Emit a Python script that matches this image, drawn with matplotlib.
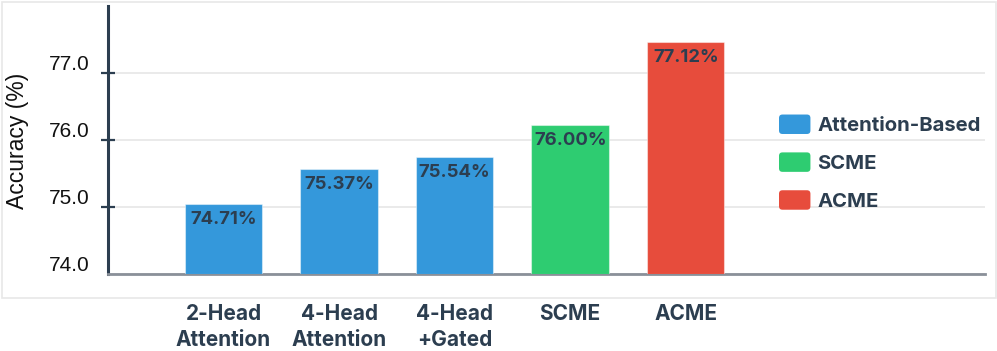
import matplotlib
matplotlib.use('Agg')
import matplotlib.pyplot as plt
from matplotlib.patches import Patch, FancyBboxPatch, Rectangle
from matplotlib.legend_handler import HandlerPatch
from matplotlib.transforms import ScaledTranslation

### Data
models    = ['2-Head\nAttention', '4-Head\nAttention', '4-Head\n+Gated', 'SCME', 'ACME']
bar_tops  = [75.04, 75.56, 75.74, 76.23, 77.46]      # bar heights as drawn against the axis
acc_text  = ['74.71%', '75.37%', '75.54%', '76.00%', '77.12%']
groups    = ['Attention-Based', 'Attention-Based', 'Attention-Based', 'SCME', 'ACME']
legend_groups = ['Attention-Based', 'SCME', 'ACME']
y_ticks   = [74.0, 75.0, 76.0, 77.0]

colors = {'Attention-Based': '#3498db', 'SCME': '#2ecc71', 'ACME': '#e74c3c'}
dark   = '#2c3e50'
base   = 74.0


class RoundedHandler(HandlerPatch):
    def create_artists(self, legend, orig_handle, xdescent, ydescent,
                       width, height, fontsize, trans):
        p = FancyBboxPatch((-xdescent, -ydescent), width, height,
                           boxstyle='round,pad=0,rounding_size=2.5',
                           facecolor=orig_handle.get_facecolor(),
                           edgecolor='none', transform=trans)
        return [p]


def main():
    W, H = 997, 351
    fig = plt.figure(figsize=(W / 100, H / 100), dpi=100)

    # light frame round the plotting area
    fig.patches.append(Rectangle((2 / W, 1 - 298 / H), 994 / W, 296 / H,
                                 transform=fig.transFigure, fill=False,
                                 edgecolor='#e8e8e8', linewidth=1.2))

    ax = fig.add_axes([108 / W, 1 - 274 / H, 877 / W, 268 / H])
    x = list(range(len(models)))
    heights = [t - base for t in bar_tops]
    bars = ax.bar(x, heights, bottom=base, width=0.67,
                  color=[colors[g] for g in groups],
                  edgecolor=(1, 1, 1, 0.45), linewidth=0.8, zorder=3)

    for b, txt in zip(bars, acc_text):
        ax.annotate(txt, (b.get_x() + b.get_width() / 2, b.get_y() + b.get_height()),
                    xytext=(0, -5), textcoords='offset points',
                    ha='center', va='top', fontsize=13.3, fontweight='bold',
                    family='Inter', color=dark, zorder=4)

    ax.set_xlim(-1.0, 6.59)
    ax.set_ylim(base, 78.0)

    ax.set_yticks(y_ticks)
    ax.set_yticklabels(['%.1f' % t for t in y_ticks], family='Liberation Sans',
                       fontsize=15, color='#111111', va='baseline')
    ax.tick_params(axis='y', direction='inout', length=10, width=1.6,
                   color=dark, pad=8)
    ax.yaxis.get_major_ticks()[0].tick1line.set_visible(False)
    off = ScaledTranslation(0, 3 / 100, fig.dpi_scale_trans)
    for lbl in ax.get_yticklabels():
        lbl.set_transform(lbl.get_transform() + off)

    ax.set_xticks(x)
    ax.set_xticklabels(models, fontsize=15, fontweight='bold',
                       family='Inter', color=dark, linespacing=1.4)
    ax.tick_params(axis='x', length=0, pad=21.5)

    ax.grid(axis='y', color='#e6e6e6', linewidth=1.2, zorder=0)
    ax.set_axisbelow(True)

    for s in ['top', 'right']:
        ax.spines[s].set_visible(False)
    ax.spines['left'].set_color(dark)
    ax.spines['left'].set_linewidth(2.2)
    ax.spines['bottom'].set_color('#8a9099')
    ax.spines['bottom'].set_linewidth(2.0)

    fig.text(17.5 / W, 1 - 141 / H, 'Accuracy (%)', rotation=90,
             ha='center', va='center', fontsize=16.5,
             family='Liberation Sans', color='#111111')

    handles = [Patch(facecolor=colors[g], label=g) for g in legend_groups]
    ax.legend(handles=handles, loc='center left',
              bbox_to_anchor=(779 / W, 1 - 162.7 / H),
              bbox_transform=fig.transFigure, frameon=False,
              borderpad=0, borderaxespad=0, handlelength=1.55,
              handleheight=1.1, handletextpad=0.35, labelspacing=0.85,
              prop={'family': 'Inter', 'weight': 'bold', 'size': 14.6},
              labelcolor=dark,
              handler_map={Patch: RoundedHandler()})

    fig.savefig('out.png', dpi=100)


if __name__ == '__main__':
    main()
